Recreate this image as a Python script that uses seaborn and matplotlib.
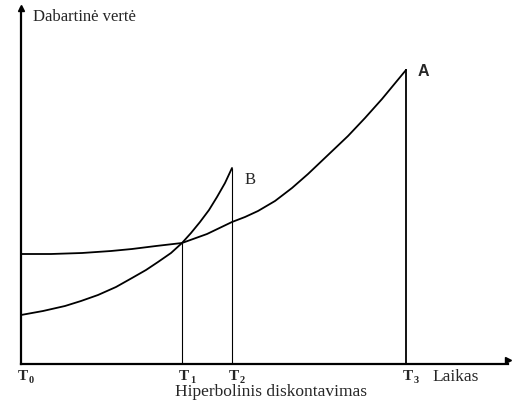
import pandas as pd
import matplotlib.pyplot as plt
import seaborn as sb

# values (time in arbitrary units, T0 = 0)
times = [0, 161, 211, 385]
time_subs = ['0', '1', '2', '3']

a_x = [0, 30, 61, 90, 111, 135, 161, 186, 211, 224, 237, 254, 271, 287, 307, 327, 344, 361, 385]
a_y = [110, 110, 111, 113, 115, 118, 121, 130, 142, 147, 153, 163, 176, 190, 209, 228, 246, 265, 294]

b_x = [0, 22, 44, 60, 77, 95, 111, 125, 137, 150, 161, 170, 179, 188, 196, 204, 211]
b_y = [49, 53, 58, 63, 69, 77, 86, 94, 102, 111, 121, 131, 142, 154, 167, 181, 196]

curve_a = pd.DataFrame({'t': a_x, 'v': a_y, 'kreivė': 'A'})
curve_b = pd.DataFrame({'t': b_x, 'v': b_y, 'kreivė': 'B'})
df = pd.concat([curve_a, curve_b])

sb.set_theme(style='white')
plt.rcParams['font.family'] = ['Liberation Serif', 'DejaVu Serif']

fig = plt.figure(figsize=(5.12, 4.03), dpi=100)
ax = fig.add_axes([21 / 512, 39 / 403, 487 / 512, 356 / 403])

sb.lineplot(data=df, x='t', y='v', units='kreivė', estimator=None,
            color='black', lw=1.3, sort=False, ax=ax, legend=False)

# vertical drop lines at T1, T2, T3
ax.vlines(times[1], 0, b_y[b_x.index(161)], color='black', lw=0.8)
ax.vlines(times[2], 0, b_y[-1], color='black', lw=0.8)
ax.vlines(times[3], 0, a_y[-1] + 1, color='black', lw=1.3)

ax.set_xlim(0, 487)
ax.set_ylim(0, 356)
ax.set_xticks([])
ax.set_yticks([])
ax.set_xlabel('')
ax.set_ylabel('')
for s in ['top', 'right']:
    ax.spines[s].set_visible(False)
for s in ['left', 'bottom']:
    ax.spines[s].set_color('black')
    ax.spines[s].set_linewidth(1.6)

# arrow heads
ax.plot(0, 1, marker='^', ms=4, color='black', transform=ax.transAxes, clip_on=False)
ax.plot(1, 0.01, marker='>', ms=4, color='black', transform=ax.transAxes, clip_on=False)

# time labels under the axis: bold T with a small subscript digit
for t, sub in zip(times, time_subs):
    ax.text(t + 2, -6, 'T', ha='center', va='top', fontsize=11, fontweight='bold')
    ax.text(t + 8, -12, sub, ha='left', va='top', fontsize=7.5, fontweight='bold')

ax.text(411, -13, 'Laikas', ha='left', va='center', fontsize=12.5)
ax.text(250, -28.5, 'Hiperbolinis diskontavimas', ha='center', va='center', fontsize=12.5)
ax.text(12, 347, 'Dabartinė vertė', ha='left', va='center', fontsize=12)

ax.text(397, 293, 'A', ha='left', va='center', fontsize=11.5,
        fontweight='bold', family='Liberation Sans')
ax.text(224, 184, 'B', ha='left', va='center', fontsize=12)

plt.savefig('out.png', dpi=100)
